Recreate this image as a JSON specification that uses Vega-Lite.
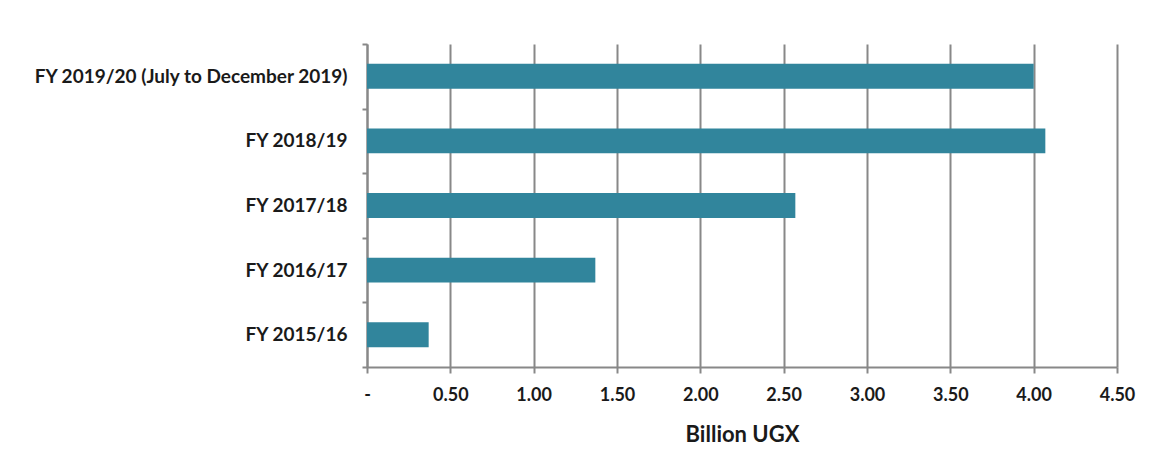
{
  "$schema": "https://vega.github.io/schema/vega-lite/v6.json",
  "autosize": {"type": "none"},
  "padding": {"left": 367, "top": 44, "right": 40, "bottom": 103},
  "width": 750,
  "height": 323,
  "background": "white",
  "config": {"view": {"stroke": null}, "font": "Lato"},
  "data": {"values": [
    {"period": "FY 2019/20 (July to December 2019)", "value": 4.00},
    {"period": "FY 2018/19", "value": 4.07},
    {"period": "FY 2017/18", "value": 2.57},
    {"period": "FY 2016/17", "value": 1.37},
    {"period": "FY 2015/16", "value": 0.37}
  ]},
  "mark": {"type": "bar", "color": "#31859C", "height": {"band": 0.386}},
  "encoding": {
    "y": {
      "field": "period", "type": "nominal",
      "sort": ["FY 2019/20 (July to December 2019)", "FY 2018/19", "FY 2017/18", "FY 2016/17", "FY 2015/16"],
      "scale": {"paddingInner": 0, "paddingOuter": 0},
      "axis": {
        "title": null, "tickBand": "extent", "grid": false,
        "domainColor": "#888888", "domainWidth": 2,
        "tickColor": "#888888", "tickWidth": 2, "tickSize": 5,
        "labelFont": "Lato", "labelFontWeight": "bold", "labelFontSize": 19,
        "labelColor": "#1a1a1a", "labelPadding": 15, "labelLimit": 400
      }
    },
    "x": {
      "field": "value", "type": "quantitative",
      "scale": {"domain": [0, 4.5], "nice": false, "zero": true},
      "axis": {
        "values": [0, 0.5, 1, 1.5, 2, 2.5, 3, 3.5, 4, 4.5],
        "labelExpr": "datum.value == 0 ? '-' : format(datum.value, '.2f')",
        "title": "Billion UGX", "titleFont": "Lato", "titleFontSize": 22, "titleFontWeight": "bold",
        "titleColor": "#1a1a1a", "titlePadding": 20,
        "grid": true, "gridColor": "#888888", "gridWidth": 2,
        "domainColor": "#888888", "domainWidth": 2,
        "tickColor": "#888888", "tickWidth": 2, "tickSize": 6,
        "labelFont": "Lato", "labelFontWeight": "bold", "labelFontSize": 18,
        "labelColor": "#1a1a1a", "labelPadding": 13, "labelFlush": false
      }
    }
  }
}
